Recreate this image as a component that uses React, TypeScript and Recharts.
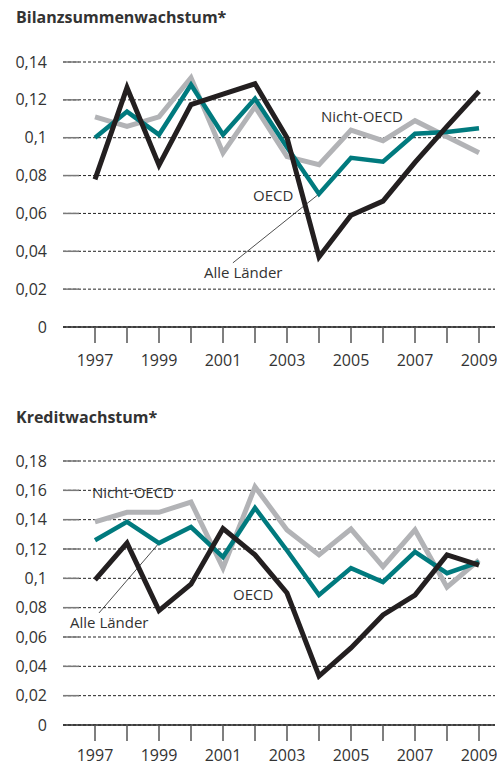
import { CartesianGrid, Line, LineChart, ReferenceLine, XAxis, YAxis } from 'recharts';

const years = [1997, 1998, 1999, 2000, 2001, 2002, 2003, 2004, 2005, 2006, 2007, 2008, 2009];

// Bilanzsummenwachstum
const bilanzAlle = [0.078, 0.1265, 0.0855, 0.1175, 0.123, 0.1285, 0.1, 0.037, 0.059, 0.0665, 0.087, 0.106, 0.1245];
const bilanzOecd = [0.1, 0.1138, 0.1016, 0.128, 0.1016, 0.1206, 0.095, 0.0703, 0.0894, 0.0873, 0.1021, 0.103, 0.105];
const bilanzNicht = [0.111, 0.106, 0.111, 0.1317, 0.092, 0.1164, 0.09, 0.0857, 0.104, 0.0984, 0.109, 0.1005, 0.092];
const bilanzTicks = [0, 0.02, 0.04, 0.06, 0.08, 0.1, 0.12, 0.14];

// Kreditwachstum
const kreditAlle = [0.099, 0.124, 0.078, 0.096, 0.134, 0.116, 0.09, 0.0334, 0.0525, 0.075, 0.0886, 0.116, 0.109];
const kreditOecd = [0.126, 0.1385, 0.124, 0.135, 0.1145, 0.148, 0.119, 0.0886, 0.107, 0.0975, 0.118, 0.1035, 0.111];
const kreditNicht = [0.1385, 0.145, 0.145, 0.152, 0.107, 0.1623, 0.133, 0.116, 0.1336, 0.108, 0.133, 0.094, 0.1125];
const kreditTicks = [0, 0.02, 0.04, 0.06, 0.08, 0.1, 0.12, 0.14, 0.16, 0.18];

const FONT = '"Open Sans", sans-serif';
const BLACK = '#231f20';
const TEAL = '#007a7e';
const GREY = '#b2b3b6';

const bilanzData = years.map((year, i) => ({
  year,
  alle: bilanzAlle[i],
  oecd: bilanzOecd[i],
  nicht: bilanzNicht[i],
}));

const kreditData = years.map((year, i) => ({
  year,
  alle: kreditAlle[i],
  oecd: kreditOecd[i],
  nicht: kreditNicht[i],
}));

const fmt = (v: number) => String(v).replace('.', ',');

const YTick = ({ x, y, payload }: any) => (
  <g>
    <text x={x} y={y} dy={5.5} textAnchor="end" fill="#333" fontSize={16} fontFamily={FONT}>
      {fmt(payload.value)}
    </text>
    {payload.value !== 0 && (
      <line x1={x + 16} x2={x + 32} y1={y} y2={y} stroke="#7a7a7a" strokeWidth={1.5} />
    )}
  </g>
);

interface PanelProps {
  data: typeof bilanzData;
  ticks: number[];
  height: number;
  top: number;
  axisHeight: number;
  labelGap: number;
  leader: { x: number; y: number }[];
}

function Panel({ data, ticks, height, top, axisHeight, labelGap, leader }: PanelProps) {
  return (
    <LineChart
      width={497}
      height={height}
      data={data}
      margin={{ top, right: 2, left: 0, bottom: 0 }}
      style={{ fontFamily: FONT }}
    >
      <CartesianGrid vertical={false} stroke="#222" strokeDasharray="3 2" strokeWidth={1} />
      <XAxis
        dataKey="year"
        type="number"
        domain={[1996, 2009.5]}
        ticks={years}
        interval={0}
        height={axisHeight}
        tickSize={16}
        tickMargin={labelGap}
        tickLine={{ stroke: '#555', strokeWidth: 1.5 }}
        axisLine={{ stroke: '#222', strokeWidth: 1.5 }}
        tick={{ fill: '#333', fontSize: 16, fontFamily: FONT }}
        tickFormatter={(y: number) => (y % 2 === 1 ? String(y) : '')}
      />
      <YAxis
        type="number"
        domain={[0, ticks[ticks.length - 1]]}
        ticks={ticks}
        interval={0}
        width={63}
        axisLine={false}
        tickLine={false}
        tickSize={0}
        tickMargin={16}
        tick={<YTick />}
      />
      <ReferenceLine segment={leader} stroke="#222" strokeWidth={0.8} />
      <Line dataKey="nicht" stroke={GREY} strokeWidth={5} dot={false} isAnimationActive={false} />
      <Line dataKey="oecd" stroke={TEAL} strokeWidth={4.5} dot={false} isAnimationActive={false} />
      <Line dataKey="alle" stroke={BLACK} strokeWidth={5} dot={false} isAnimationActive={false} />
    </LineChart>
  );
}

const labelStyle = (left: number, top: number): React.CSSProperties => ({
  position: 'absolute',
  left,
  top,
  fontFamily: FONT,
  fontSize: 15,
  color: '#333',
  lineHeight: '20px',
  whiteSpace: 'nowrap',
});

const titleStyle = (top: number): React.CSSProperties => ({
  position: 'absolute',
  left: 16,
  top,
  fontFamily: FONT,
  fontSize: 16,
  fontWeight: 700,
  color: '#333',
  lineHeight: '20px',
});

export default function App() {
  return (
    <div style={{ position: 'absolute', left: 0, top: 0, width: 497, height: 767, background: '#fff' }}>
      <div style={titleStyle(7)}>Bilanzsummenwachstum*</div>
      <div style={{ position: 'absolute', left: 0, top: 0 }}>
        <Panel
          data={bilanzData}
          ticks={bilanzTicks}
          height={375}
          top={62}
          axisHeight={48}
          labelGap={12}
          leader={[
            { x: 2001.31, y: 0.0339 },
            { x: 2004, y: 0.0703 },
          ]}
        />
      </div>
      <div style={labelStyle(321, 106)}>Nicht-OECD</div>
      <div style={labelStyle(253, 185)}>OECD</div>
      <div style={labelStyle(204, 262)}>Alle Länder</div>

      <div style={titleStyle(407)}>Kreditwachstum*</div>
      <div style={{ position: 'absolute', left: 0, top: 380 }}>
        <Panel
          data={kreditData}
          ticks={kreditTicks}
          height={387}
          top={81}
          axisHeight={42}
          labelGap={9}
          leader={[
            { x: 1997.125, y: 0.0764 },
            { x: 1999, y: 0.124 },
          ]}
        />
      </div>
      <div style={labelStyle(92, 482)}>Nicht-OECD</div>
      <div style={labelStyle(233, 584)}>OECD</div>
      <div style={labelStyle(70, 612)}>Alle Länder</div>
    </div>
  );
}
